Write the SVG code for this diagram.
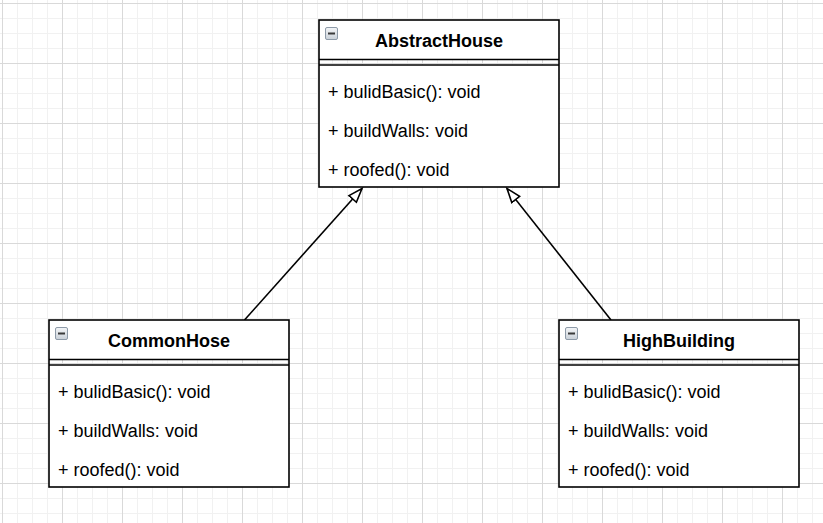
<svg xmlns="http://www.w3.org/2000/svg" width="823" height="523" viewBox="0 0 823 523">
<style>
.box{fill:none;stroke:#000;stroke-width:1.6}
.part{fill:#fff}
.sep{stroke:#000;stroke-width:1.6}
.title{font-family:"Liberation Sans",Arial,sans-serif;font-size:18px;font-weight:bold;fill:#000;text-anchor:middle}
.item{font-family:"Liberation Sans",Arial,sans-serif;font-size:18px;fill:#000}
.edge{stroke:#000;stroke-width:1.6;fill:none}
.ico{fill:url(#icog);stroke:#8d9aa8;stroke-width:1}
.icom{stroke:#3a3a3a;stroke-width:2}
</style>
<defs>
<pattern id="minor" x="2" y="3" width="15" height="15" patternUnits="userSpaceOnUse">
<rect x="0" y="0" width="1" height="15" fill="#f1f1f1"/>
<rect x="0" y="0" width="15" height="1" fill="#f1f1f1"/>
</pattern>
<pattern id="major" x="2" y="3" width="60" height="60" patternUnits="userSpaceOnUse">
<rect x="0" y="0" width="1" height="60" fill="#d9d9d9"/>
<rect x="0" y="0" width="60" height="1" fill="#d9d9d9"/>
</pattern>
<linearGradient id="icog" x1="0" y1="0" x2="0" y2="1">
<stop offset="0" stop-color="#f4f6f8"/>
<stop offset="1" stop-color="#c9d0d8"/>
</linearGradient>
<marker id="inh" markerUnits="userSpaceOnUse" markerWidth="18" markerHeight="14" refX="15" refY="6" orient="auto" viewBox="0 0 18 12">
<path d="M1,1 L15,6 L1,11 Z" fill="#fff" stroke="#000" stroke-width="1.6"/>
</marker>
</defs>
<rect width="823" height="523" fill="#fff"/>
<rect width="823" height="523" fill="url(#minor)"/>
<rect width="823" height="523" fill="url(#major)"/>

<g id="connectors">
<line class="edge" x1="244.5" y1="320" x2="362" y2="188.5" marker-end="url(#inh)"/>
<line class="edge" x1="611" y1="320" x2="507" y2="188.5" marker-end="url(#inh)"/>
</g>

<g id="AbstractHouse">
<rect class="part" x="319" y="20" width="240" height="39.5"/>
<rect class="part" x="319" y="65" width="240" height="122"/>
<rect class="box" x="319" y="20" width="240" height="167"/>
<line class="sep" x1="319" y1="59.5" x2="559" y2="59.5"/>
<line class="sep" x1="319" y1="65" x2="559" y2="65"/>
<rect class="ico" x="325.5" y="27.5" width="12" height="12" rx="1.5"/>
<line class="icom" x1="328" y1="33.5" x2="335" y2="33.5"/>
<text class="title" x="439" y="47">AbstractHouse</text>
<text class="item" x="328" y="97.5">+ bulidBasic(): void</text>
<text class="item" x="328" y="136.5">+ buildWalls: void</text>
<text class="item" x="328" y="175.5">+ roofed(): void</text>
</g>

<g id="CommonHose">
<rect class="part" x="49" y="320" width="240" height="39.5"/>
<rect class="part" x="49" y="365" width="240" height="122"/>
<rect class="box" x="49" y="320" width="240" height="167"/>
<line class="sep" x1="49" y1="359.5" x2="289" y2="359.5"/>
<line class="sep" x1="49" y1="365" x2="289" y2="365"/>
<rect class="ico" x="55.5" y="327.5" width="12" height="12" rx="1.5"/>
<line class="icom" x1="58" y1="333.5" x2="65" y2="333.5"/>
<text class="title" x="169" y="347">CommonHose</text>
<text class="item" x="58" y="397.5">+ bulidBasic(): void</text>
<text class="item" x="58" y="436.5">+ buildWalls: void</text>
<text class="item" x="58" y="475.5">+ roofed(): void</text>
</g>

<g id="HighBuilding">
<rect class="part" x="559" y="320" width="240" height="39.5"/>
<rect class="part" x="559" y="365" width="240" height="122"/>
<rect class="box" x="559" y="320" width="240" height="167"/>
<line class="sep" x1="559" y1="359.5" x2="799" y2="359.5"/>
<line class="sep" x1="559" y1="365" x2="799" y2="365"/>
<rect class="ico" x="565.5" y="327.5" width="12" height="12" rx="1.5"/>
<line class="icom" x1="568" y1="333.5" x2="575" y2="333.5"/>
<text class="title" x="679" y="347">HighBuilding</text>
<text class="item" x="568" y="397.5">+ bulidBasic(): void</text>
<text class="item" x="568" y="436.5">+ buildWalls: void</text>
<text class="item" x="568" y="475.5">+ roofed(): void</text>
</g>
</svg>
